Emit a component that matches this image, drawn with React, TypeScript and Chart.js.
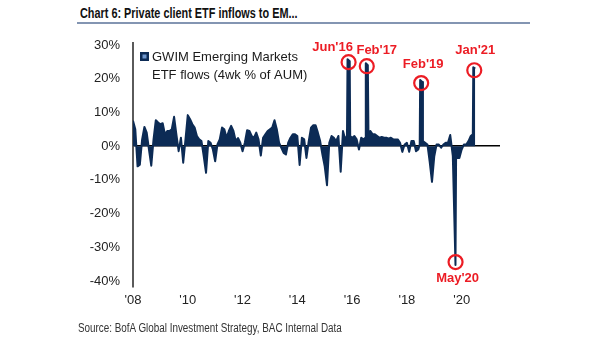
import React, { useEffect, useRef } from "react";
import { Chart, registerables } from "chart.js";

Chart.register(...registerables);

// ---- data ----
const dates: string[] = [
  "2008-08","2008-09","2008-10","2008-11","2008-12",
  "2009-01","2009-02","2009-03","2009-04","2009-05","2009-06","2009-07","2009-08","2009-09","2009-10","2009-11","2009-12",
  "2010-01","2010-02","2010-03","2010-04","2010-05","2010-06","2010-07","2010-08","2010-09","2010-10","2010-11","2010-12",
  "2011-01","2011-02","2011-03","2011-04","2011-05","2011-06","2011-07","2011-08","2011-09","2011-10","2011-11","2011-12",
  "2012-01","2012-02","2012-03","2012-04","2012-05","2012-06","2012-07","2012-08","2012-09","2012-10","2012-11","2012-12",
  "2013-01","2013-02","2013-03","2013-04","2013-05","2013-06","2013-07","2013-08","2013-09","2013-10","2013-11","2013-12",
  "2014-01","2014-02","2014-03","2014-04","2014-05","2014-06","2014-07","2014-08","2014-09","2014-10","2014-11","2014-12",
  "2015-01","2015-02","2015-03","2015-04","2015-05","2015-06","2015-07","2015-08","2015-09","2015-10","2015-11","2015-12",
  "2016-01","2016-02","2016-03","2016-04","2016-05","2016-05-24","2016-06","2016-06-30","2016-07-06","2016-08","2016-09","2016-10","2016-11","2016-12",
  "2017-01","2017-01-25","2017-02","2017-02-28","2017-03-06","2017-04","2017-05","2017-06","2017-07","2017-08","2017-09","2017-10","2017-11","2017-12",
  "2018-01","2018-02","2018-03","2018-04","2018-05","2018-06","2018-07","2018-08","2018-09","2018-10","2018-11","2018-12",
  "2019-01","2019-01-20","2019-01-26","2019-02-24","2019-03-02","2019-04","2019-05","2019-06","2019-07","2019-08","2019-09","2019-10","2019-11","2019-12",
  "2020-01","2020-02","2020-03","2020-04-05","2020-05-10","2020-05-18","2020-06","2020-07","2020-08","2020-09","2020-10","2020-11","2020-12","2020-12-28",
  "2021-01-04","2021-01-30",
];

const flows: number[] = [
  7.5, 5, -6, -5.5, 2,
  5.7, 4, -1, -5.8, 2, 7.7, 7, 6.5, 6.8, 3.5, 4.5, 4.5,
  5, 8.7, 3.5, -1.5, 2.5, -4.9, 2, 9.2, 8, 6.5, 5.5, 3,
  2, 1.5, -3, -7.9, 1.5, 1, -1, -4.5, 0.5, 2, 5.5, 5,
  2.5, 4.5, 6, 4.5, 1.5, 2.4, 1, -1.5, 1, 4.7, 4.5, 3,
  2.5, 4, 2, -2.8, 2.5, 3.5, 4.5, 5, 5.5, 7.7, 5, 1,
  -0.5, -2, -2.5, 1, 2.5, 3.5, 3.5, 3, -5.6, 2.5, 2, -3.5,
  1.5, 5.5, 6.2, 6.2, 4, 1.5, -2.5, -6, -11.6, 1, 3, 2.5,
  1.5, 3, -7.6, 4.5, 2, 3, 25.8, 25.2, 3, 2.5, 3, 2, -1, 2.5,
  2, 2.5, 24.6, 24, 4, 4.5, 3.5, 3.5, 3, 2.5, 2.7, 2.5, 2.5, 2.2,
  2.5, 2, 2, 2, 1, -1.7, 0.5, 1, -1.7, 1.5, 1.5, -1.5,
  -1, 0.5, 19.6, 19, 1.5, 1, 0.5, -4.7, -10.6, -3, 0.5, 0.5, -0.5, 0.5,
  1, 1, 3.3, -3, -35.3, -3.5, -3.5, -3.5, -1, 0.5, 0.5, 1.5, 3, 3.5,
  23.4, 23,
];

const yTicks: number[] = [-40, -30, -20, -10, 0, 10, 20, 30];
const xTickDates: string[] = ["2008-08", "2010-08", "2012-08", "2014-08", "2016-08", "2018-08", "2020-08"];
const xTickLabels: string[] = ["'08", "'10", "'12", "'14", "'16", "'18", "'20"];

const seriesLabel: string[] = ["GWIM Emerging Markets", "ETF flows (4wk % of AUM)"];

const annotationLabels: string[] = ["Jun'16", "Feb'17", "Feb'19", "May'20", "Jan'21"];
const annotationDates: string[] = ["2016-06-15", "2017-02-14", "2019-02-09", "2020-05-11", "2021-01-17"];

// label placement relative to circle centre (layout only)
const annotationOffsets: [number, number][] = [[-16, -15], [10, -16], [2, -19], [2, 16], [1, -20]];

// ---- helpers ----
function toYear(d: string): number {
  const p = d.split("-").map(Number);
  const m = p[1] - 1;
  const day = p.length > 2 ? (p[2] - 1) / 30.5 : 0;
  return p[0] + (m + day) / 12;
}

const NAVY = "#0c2b55";
const RED = "#ec1c24";
const TICK_FONT = { family: "'Liberation Sans', Arial, sans-serif", size: 13 };

const overlayPlugin = {
  id: "overlay",
  afterDraw(chart: any) {
    const ctx = chart.ctx as CanvasRenderingContext2D;
    const xs = chart.scales.x;
    const ys = chart.scales.y;
    // legend
    ctx.save();
    ctx.fillStyle = NAVY;
    ctx.fillRect(140, 52, 9, 9);
    ctx.fillStyle = "#6e96cc";
    ctx.fillRect(142.5, 54.5, 4, 4);
    ctx.fillStyle = "#1a1a1a";
    ctx.font = "13px 'Liberation Sans', Arial, sans-serif";
    ctx.textBaseline = "middle";
    ctx.textAlign = "left";
    ctx.fillText(seriesLabel[0], 152, 57);
    ctx.fillText(seriesLabel[1], 152, 75);
    ctx.restore();

    // annotations
    const xv = dates.map(toYear);
    annotationDates.forEach((ad, i) => {
      const ax = toYear(ad);
      let best = -1;
      for (let k = 0; k < xv.length; k++) {
        if (Math.abs(xv[k] - ax) < 0.08 && (best < 0 || Math.abs(flows[k]) > Math.abs(flows[best]))) best = k;
      }
      if (best < 0) return;
      const v = flows[best];
      const px = xs.getPixelForValue(ax);
      const py = ys.getPixelForValue(v) + (v >= 0 ? 3 : -3);
      ctx.save();
      ctx.strokeStyle = RED;
      ctx.lineWidth = 2.2;
      ctx.beginPath();
      ctx.arc(px, py, 7, 0, Math.PI * 2);
      ctx.stroke();
      ctx.fillStyle = RED;
      ctx.font = "bold 13px 'Liberation Sans', Arial, sans-serif";
      ctx.textAlign = "center";
      ctx.textBaseline = "middle";
      const [dx, dy] = annotationOffsets[i];
      ctx.fillText(annotationLabels[i], px + dx, py + dy);
      ctx.restore();
    });
  },
};

export default function App() {
  const ref = useRef<HTMLCanvasElement | null>(null);

  useEffect(() => {
    if (!ref.current) return;
    const points = dates.map((d, i) => ({ x: toYear(d), y: flows[i] }));
    const xMin = toYear(dates[0]);
    const chart = new Chart(ref.current, {
      type: "line",
      data: {
        datasets: [
          {
            label: seriesLabel.join(" "),
            data: points,
            borderColor: NAVY,
            backgroundColor: NAVY,
            borderWidth: 2,
            borderJoinStyle: "round",
            pointRadius: 0,
            fill: "origin",
            tension: 0,
          },
        ],
      },
      options: {
        responsive: false,
        animation: false,
        layout: { padding: { left: 0, right: 105, top: 43, bottom: 0 } },
        plugins: { legend: { display: false }, tooltip: { enabled: false } },
        scales: {
          x: {
            type: "linear",
            min: xMin,
            max: xMin + 13.4,
            grid: { display: false, drawTicks: false },
            border: { display: false },
            afterBuildTicks: (s: any) => {
              s.ticks = xTickDates.map((d) => ({ value: toYear(d) }));
            },
            afterFit: (s: any) => {
              s.height = 54;
            },
            ticks: {
              autoSkip: false,
              maxRotation: 0,
              padding: 6,
              color: "#222",
              font: TICK_FONT,
              callback: (_v: any, i: number) => xTickLabels[i],
            },
          },
          y: {
            min: -41.8,
            max: 30.6,
            z: 1,
            afterBuildTicks: (s: any) => {
              s.ticks = yTicks.map((v) => ({ value: v }));
            },
            afterFit: (s: any) => {
              s.width = 133;
            },
            grid: {
              drawTicks: false,
              lineWidth: 1.5,
              color: (c: any) => (c.tick && c.tick.value === 0 ? "#000" : "rgba(0,0,0,0)"),
            },
            border: { color: "#5a5a5a", width: 2 },
            ticks: {
              padding: 13,
              color: "#222",
              font: TICK_FONT,
              callback: (v: any) => `${v}%`,
            },
          },
        },
      },
      plugins: [overlayPlugin],
    } as any);
    return () => chart.destroy();
  }, []);

  return (
    <div style={{ position: "absolute", left: 0, top: 0, width: 605, height: 341, background: "#fff", overflow: "hidden" }}>
      <div
        style={{
          position: "absolute",
          left: 80,
          top: 4,
          fontFamily: "'Liberation Sans', Arial, sans-serif",
          fontWeight: 700,
          fontSize: 15,
          color: "#111",
          whiteSpace: "nowrap",
          lineHeight: "17px",
          transform: "scaleX(0.725)",
          transformOrigin: "0 0",
        }}
      >
        Chart 6: Private client ETF inflows to EM...
      </div>
      <div style={{ position: "absolute", left: 77, top: 22, width: 453, height: 1.5, background: "#8395b2" }} />
      <canvas ref={ref} width={605} height={341} style={{ position: "absolute", left: 0, top: 0, width: 605, height: 341 }} />
      <div
        style={{
          position: "absolute",
          left: 78,
          top: 321,
          fontFamily: "'Liberation Sans', Arial, sans-serif",
          fontSize: 12.5,
          color: "#333",
          whiteSpace: "nowrap",
          lineHeight: "15px",
          transform: "scaleX(0.79)",
          transformOrigin: "0 0",
        }}
      >
        Source: BofA Global Investment Strategy, BAC Internal Data
      </div>
    </div>
  );
}
